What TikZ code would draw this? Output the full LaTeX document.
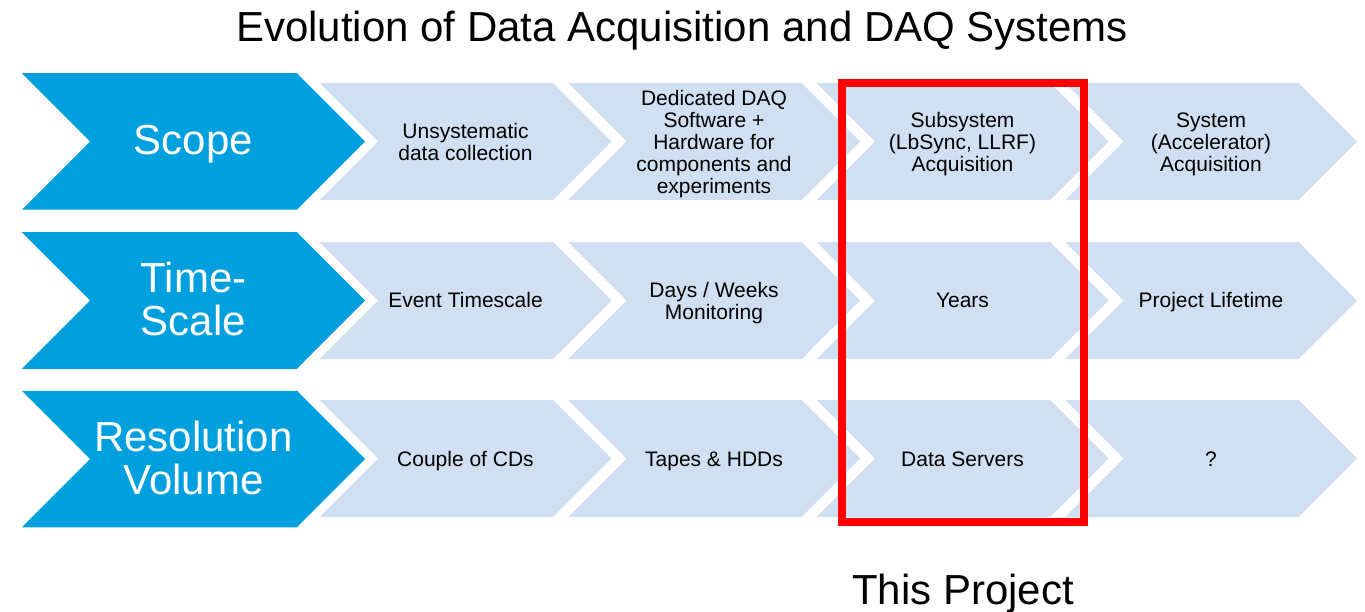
\documentclass[tikz,border=0pt]{standalone}
\usepackage{fontspec}
\setmainfont{Liberation Sans}
\definecolor{daqblue}{RGB}{0,160,223}
\definecolor{daqlight}{RGB}{208,224,242}
\definecolor{daqred}{RGB}{255,0,0}
% chevron: style, left x, centre y, width, height, point depth
\newcommand\chevshape[6]{%
  \fill[#1] (#2,{#3-#5/2}) -- ({#2+#4-#6},{#3-#5/2}) -- ({#2+#4},#3)
    -- ({#2+#4-#6},{#3+#5/2}) -- (#2,{#3+#5/2}) -- ({#2+#6},#3) -- cycle;}
\begin{document}
\begin{tikzpicture}[x=1pt,y=-1pt,
  bigtxt/.style={font=\fontsize{42}{43}\selectfont, align=center, inner sep=0pt},
  headtxt/.style={bigtxt, text=white},
  celltxt/.style={font=\fontsize{21}{22}\selectfont, align=center, inner sep=0pt, text=black},
  bluechev/.style={fill=daqblue},
  lightchev/.style={fill=daqlight},
  projbox/.style={draw=daqred, line width=7.5pt, inner sep=0pt}]
\useasboundingbox (0,0) rectangle (1365,612);

% title
\node[bigtxt, anchor=base] (title) at (682,42) {Evolution of Data Acquisition and DAQ Systems};

% blue header chevrons
\chevshape{bluechev}{22}{141.5}{343}{136.5}{68}
\chevshape{bluechev}{22}{300.5}{343}{136.5}{68}
\chevshape{bluechev}{22}{459}{343}{136.5}{68}

% light chevrons
\foreach \cy in {141.5,300.5,458.5}{
  \foreach \i in {0,1,2,3}{
    \chevshape{lightchev}{319.5+248.5*\i}{\cy}{292}{117}{58.5}
  }
}

% header texts
\node[headtxt, anchor=base] (scope) at (193.5,155) {Scope};
\node[headtxt] (timescale) at (193.5,299) {Time-\\Scale};
\node[headtxt] (resvol) at (193.5,458) {Resolution\\Volume};

% row 1
\node[celltxt] (s1) at (465.5,141.5) {Unsystematic\\data collection};
\node[celltxt] (s2) at (714,144.5) {Dedicated DAQ\\Software +\\Hardware for\\components and\\experiments};
\node[celltxt] (s3) at (962.5,144.5) {Subsystem\\(LbSync, LLRF)\\Acquisition};
\node[celltxt] (s4) at (1211,144.5) {System\\(Accelerator)\\Acquisition};

% row 2
\node[celltxt, anchor=base] (t1) at (465.5,308) {Event Timescale};
\node[celltxt] (t2) at (714,303.5) {Days / Weeks\\Monitoring};
\node[celltxt, anchor=base] (t3) at (962.5,308) {Years};
\node[celltxt, anchor=base] (t4) at (1211,308) {Project Lifetime};

% row 3
\node[celltxt, anchor=base] (r1) at (465.5,466) {Couple of CDs};
\node[celltxt, anchor=base] (r2) at (714,466) {Tapes \& HDDs};
\node[celltxt, anchor=base] (r3) at (962.5,466) {Data Servers};
\node[celltxt, anchor=base] (r4) at (1211,466) {?};

% highlight box
\node[projbox, minimum width=242pt, minimum height=439pt] (project) at (963,302.5) {};
\node[bigtxt, anchor=base] (thisproj) at (963,604) {This Project};
\end{tikzpicture}
\end{document}
